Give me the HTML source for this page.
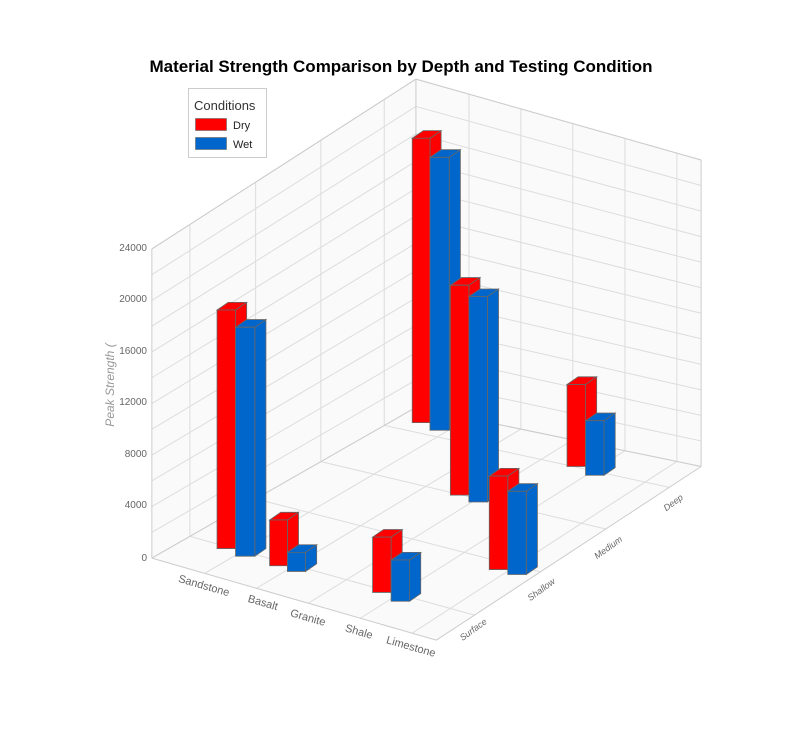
<!DOCTYPE html>
<html><head><meta charset="utf-8"><style>
body{margin:0;background:#fff;}
svg{display:block;font-family:"Liberation Sans",sans-serif;}
</style></head><body>
<svg id="s" width="810" height="730" viewBox="0 0 810 730" xmlns="http://www.w3.org/2000/svg">
<rect width="810" height="730" fill="#fff"/>
<g id="g" transform="translate(140,60) scale(0.37037,0.38168)"></g>
<text x="401" y="72" text-anchor="middle" font-size="17" font-weight="bold" fill="#000">Material Strength Comparison by Depth and Testing Condition</text>
<g font-size="10" fill="#666" text-anchor="end">
<text x="147" y="251">24000</text><text x="147" y="302">20000</text><text x="147" y="354">16000</text>
<text x="147" y="405">12000</text><text x="147" y="457">8000</text><text x="147" y="508">4000</text><text x="147" y="561">0</text>
</g>
<text transform="translate(114,385) rotate(-90)" text-anchor="middle" font-size="12" font-style="italic" fill="#999">Peak Strength (</text>
<g font-size="11" fill="#666" text-anchor="middle">
<text transform="translate(203,589) rotate(16)">Sandstone</text>
<text transform="translate(262,606) rotate(16)">Basalt</text>
<text transform="translate(307,621) rotate(16)">Granite</text>
<text transform="translate(358,635) rotate(16)">Shale</text>
<text transform="translate(410,650) rotate(16)">Limestone</text>
</g>
<g font-size="9" font-style="italic" fill="#666" text-anchor="middle">
<text transform="translate(475,632) rotate(-36)">Surface</text>
<text transform="translate(543,592) rotate(-36)">Shallow</text>
<text transform="translate(610,550) rotate(-36)">Medium</text>
<text transform="translate(675,505) rotate(-36)">Deep</text>
</g>
<rect x="188.5" y="88.5" width="78" height="69" fill="#fff" stroke="#ccc"/>
<text x="194" y="110" font-size="13" fill="#333">Conditions</text>
<rect x="195.5" y="118.5" width="31" height="12" fill="#f00" stroke="#666" stroke-width="0.6"/>
<text x="233" y="129" font-size="11" fill="#222">Dry</text>
<rect x="195.5" y="137.5" width="31" height="12" fill="#0066cc" stroke="#666" stroke-width="0.6"/>
<text x="233" y="148" font-size="11" fill="#222">Wet</text>
</svg>
<script>
var g=document.getElementById('g'),NS="http://www.w3.org/2000/svg";
function poly(pts,fill,stroke){var p=document.createElementNS(NS,'polygon');p.setAttribute('points',pts.map(function(a){return a.join(',')}).join(' '));p.setAttribute('fill',fill);p.setAttribute('stroke',stroke||'none');p.setAttribute('vector-effect','non-scaling-stroke');p.setAttribute('stroke-width','0.8');g.appendChild(p);}
function line(a,b,c){var l=document.createElementNS(NS,'line');l.setAttribute('x1',a[0]);l.setAttribute('y1',a[1]);l.setAttribute('x2',b[0]);l.setAttribute('y2',b[1]);l.setAttribute('stroke',c||'#ddd');l.setAttribute('vector-effect','non-scaling-stroke');l.setAttribute('stroke-width','1');g.appendChild(l);}
function lerp(a,b,t){return [a[0]+(b[0]-a[0])*t,a[1]+(b[1]-a[1])*t];}
var LFt=[32,495],LFb=[32,1305],BLt=[745,50],BLb=[745,910],BRt=[1515,262],BRb=[1515,1065],FR=[800,1520];
// walls
poly([LFt,BLt,BLb,LFb],'#fafafa');poly([BLt,BRt,BRb,BLb],'#fafafa');poly([LFb,BLb,BRb,FR],'#fafafa');
var k,t;
for(k=0;k<=12;k++){t=k/12;
 line(lerp(LFb,LFt,t),lerp(BLb,BLt,t));
 line(lerp(BLb,BLt,t),lerp(BRb,BRt,t));}
var vs=[0.144,0.393,0.64,0.88];
vs.forEach(function(v){var top=lerp(LFt,BLt,v),bot=lerp(LFb,BLb,v);line(top,bot);
 line(bot,lerp(FR,BRb,v));});
var us=[0.186,0.368,0.55,0.733,0.915];
us.forEach(function(u){line(lerp(BLt,BRt,u),lerp(BLb,BRb,u));line(lerp(LFb,FR,u),lerp(BLb,BRb,u));});
line(LFt,LFb,'#ccc');line(BLt,BLb,'#ccc');line(BRt,BRb,'#ccc');line(LFb,FR,'#ccc');line(FR,BRb,'#ccc');
line(LFt,BLt,'#ccc');line(BLt,BRt,'#ccc');line(LFb,BLb,'#ccc');line(BLb,BRb,'#ccc');
// bars
var DX=30,DY=-20,R='#ff0000',B='#0066cc',E='#666';
function bar(xl,xr,top,bot,c){
 poly([[xr,top],[xr+DX,top+DY],[xr+DX,bot+DY],[xr,bot]],c,E);
 poly([[xl,top],[xr,top],[xr+DX,top+DY],[xl+DX,top+DY]],c,E);
 poly([[xl,top],[xr,top],[xr,bot],[xl,bot]],c,E);}
var bars=[[735,783,835,205,950,255,970],[838,888,938,590,1140,620,1158],[1153,1203,1253,850,1065,945,1088],[943,993,1043,1090,1335,1130,1348],[208,258,310,655,1280,700,1300],[350,398,447,1205,1325,1290,1340],[628,678,728,1250,1395,1310,1418]];
bars.forEach(function(b){bar(b[0],b[1],b[3],b[4],R);bar(b[1],b[2],b[5],b[6],B);});
</script>
</body></html>
